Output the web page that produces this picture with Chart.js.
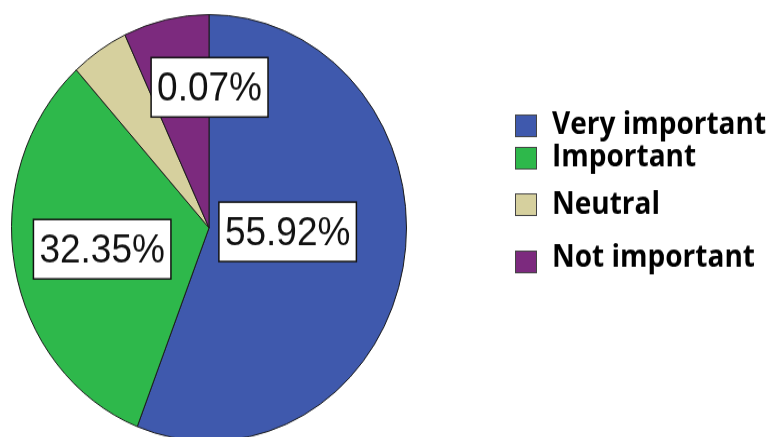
<!DOCTYPE html>
<html>
<head>
<meta charset="utf-8">
<title>Importance</title>
<script src="https://cdn.jsdelivr.net/npm/chart.js@4/dist/chart.umd.min.js"></script>
<style>
  html { overflow: hidden; }
  body { margin: 0; padding: 0; background: #fff; height: 437px; }
  #wrap { width: 769px; height: 412px; transform: scaleY(1.08); transform-origin: 0 0; }
</style>
</head>
<body>
<div id="wrap"><canvas id="pieChart" width="769" height="412"></canvas></div>
<script>
// =============================
// Data
// =============================
const categories = ["Very important", "Important", "Neutral", "Not important"];
const shares = [55.92, 32.35, 4.73, 7.0];
const labelTexts = ["55.92%", "32.35%", "", "0.07%"];
const colors = ["#3f59ad", "#2eb84b", "#d6d09e", "#7c2a7e"];

// =============================
// Percentage boxes on the slices
// =============================
const boxLabels = {
  id: "boxLabels",
  afterDatasetsDraw(chart, args, opts) {
    const ctx = chart.ctx;
    const arcs = chart.getDatasetMeta(0).data;
    ctx.save();
    ctx.font = "37px 'Liberation Sans', Arial, sans-serif";
    ctx.textAlign = "center";
    ctx.textBaseline = "middle";
    arcs.forEach((arc, i) => {
      const text = labelTexts[i];
      if (!text) return;
      const place = opts.place[i];
      const mid = (arc.startAngle + arc.endAngle) / 2;
      const r = arc.outerRadius * place.r;
      const x = arc.x + Math.cos(mid) * r + place.dx;
      const y = arc.y + Math.sin(mid) * r + place.dy;
      const w = ctx.measureText(text).width + 12;
      const h = 55;
      ctx.fillStyle = "#fff";
      ctx.fillRect(x - w / 2, y - h / 2, w, h);
      ctx.strokeStyle = "#111";
      ctx.lineWidth = 1.5;
      ctx.strokeRect(x - w / 2, y - h / 2, w, h);
      ctx.fillStyle = "#111";
      ctx.fillText(text, x, y + 2);
    });
    ctx.restore();
  },
};

// =============================
// Legend on the right
// =============================
const sideLegend = {
  id: "sideLegend",
  afterDraw(chart, args, opts) {
    const ctx = chart.ctx;
    const ds = chart.data.datasets[0];
    ctx.save();
    ctx.font = "bold 28px 'Open Sans', sans-serif";
    ctx.textBaseline = "middle";
    chart.data.labels.forEach((label, i) => {
      const y = opts.rows[i];
      ctx.fillStyle = ds.backgroundColor[i];
      ctx.fillRect(opts.x, y - 10, 22, 21);
      ctx.strokeStyle = "#444";
      ctx.lineWidth = 1;
      ctx.strokeRect(opts.x + 0.5, y - 9.5, 21, 20);
      ctx.fillStyle = "#000";
      ctx.fillText(label, opts.x + 37, opts.textRows[i]);
    });
    ctx.restore();
  },
};

new Chart(document.getElementById("pieChart").getContext("2d"), {
  type: "pie",
  data: {
    labels: categories,
    datasets: [
      {
        data: shares,
        backgroundColor: colors,
        borderColor: "#1a1a1a",
        borderWidth: 1,
      },
    ],
  },
  options: {
    responsive: false,
    devicePixelRatio: 1,
    animation: false,
    layout: { padding: { left: 0, right: 351, top: 13, bottom: 3 } },
    plugins: {
      legend: { display: false },
      tooltip: { enabled: false },
      boxLabels: {
        place: [
          { r: 0.4, dx: 1, dy: -11 },
          { r: 0.55, dx: 0, dy: 0 },
          { r: 0, dx: 0, dy: 0 },
          { r: 0.66, dx: 29, dy: -3 },
        ],
      },
      sideLegend: { x: 515, rows: [116, 146, 189, 242], textRows: [116, 146, 190, 239] },
    },
  },
  plugins: [boxLabels, sideLegend],
});
</script>
</body>
</html>
